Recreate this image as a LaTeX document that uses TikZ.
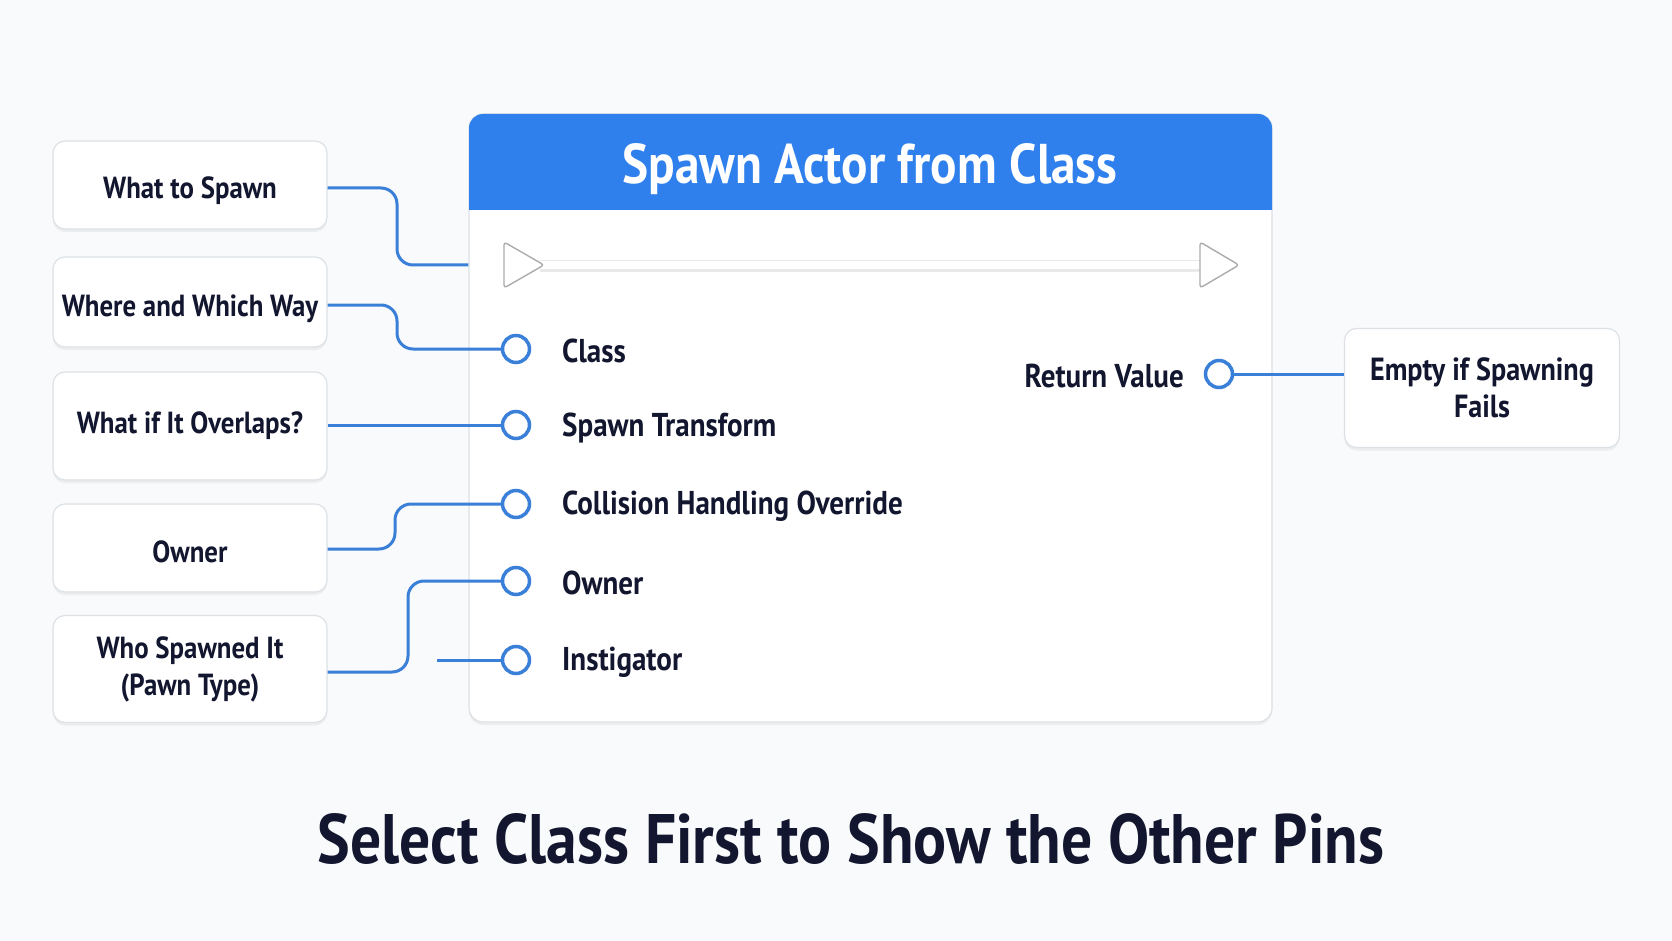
\documentclass[tikz,border=0pt]{standalone}
\usepackage{fontspec}
\setmainfont{PT Sans}[FakeStretch=0.88]
\usetikzlibrary{shadows}
\definecolor{bg}{HTML}{F9FAFB}
\definecolor{hdr}{HTML}{2F80EC}
\definecolor{wire}{HTML}{3A7FD8}
\definecolor{ink}{HTML}{12162E}
\definecolor{edge}{HTML}{DDE1E6}
\tikzset{
  lbox/.style={draw=edge, line width=1.2pt, fill=white, rounded corners=12pt,
    minimum width=274pt, align=center, text=ink,
    font=\bfseries\fontsize{30.5}{37}\selectfont,
    drop shadow={opacity=0.10, shadow xshift=0pt, shadow yshift=-3pt}},
  oneline/.style={text height=34pt, text depth=6pt},
  pin/.style={circle, draw=wire, line width=3.5pt, fill=white, minimum size=27pt, inner sep=0pt},
  pinlabel/.style={anchor=west, text=ink, font=\bfseries\fontsize{33}{37}\selectfont, inner sep=0pt},
  conn/.style={draw=wire, line width=3pt, rounded corners=16pt},
  execarrow/.style={draw=gray!65, fill=white, line width=1.4pt, rounded corners=3pt}
}
\begin{document}
\begin{tikzpicture}[x=1pt,y=-1pt]
\fill[bg] (0,0) rectangle (1672,941);
\useasboundingbox (0,0) rectangle (1672,941);

% main node body
\node[draw=edge, line width=1.2pt, fill=white, rounded corners=14pt, minimum width=803pt, minimum height=608pt,
  drop shadow={opacity=0.10, shadow xshift=0pt, shadow yshift=-3pt}] (main) at (870.5,418) {};
\begin{scope}
  \clip (469,114) rectangle (1272,210);
  \fill[hdr, rounded corners=14pt] (469,114) rectangle (1272,250);
\end{scope}
\node[text=white, font=\bfseries\fontsize{56}{60}\selectfont] (title) at (870,169) {Spawn Actor from Class};

% exec line
\draw[line width=11pt, gray!17] (540,266) -- (1205,266);
\draw[line width=7pt, white] (540,265) -- (1205,265);
\draw[execarrow] (504,242) -- (544,265) -- (504,288) -- cycle;
\draw[execarrow] (1200,242) -- (1239,265) -- (1200,288) -- cycle;
\coordinate (execL) at (504,265);

% left boxes
\node[lbox, oneline, minimum height=88pt] (b1) at (190,185) {What to Spawn};
\node[lbox, oneline, minimum height=90pt] (b2) at (190,302) {Where and Which Way};
\node[lbox, minimum height=108pt] (b3) at (190,426) {What if It Overlaps?};
\node[lbox, oneline, minimum height=88pt] (b4) at (190,548) {Owner};
\node[lbox, minimum height=107pt] (b5) at (190,669) {Who Spawned It\\(Pawn Type)};

% right box
\node[lbox, minimum width=275pt, minimum height=119pt, font=\bfseries\fontsize{32}{37}\selectfont] (rb) at (1482,388) {Empty if Spawning\\Fails};

% pins
\node[pin] (p1) at (516,349) {};
\node[pin] (p2) at (516,425) {};
\node[pin] (p3) at (516,504) {};
\node[pin] (p4) at (516,581) {};
\node[pin] (p5) at (516,660) {};
\node[pinlabel] (l1) at (562,351) {Class};
\node[pinlabel] (l2) at (562,428) {Spawn Transform};
\node[pinlabel] (l3) at (562,506) {Collision Handling Override};
\node[pinlabel] (l4) at (562,583) {Owner};
\node[pinlabel] (l5) at (562,662) {Instigator};

\node[pin] (rp) at (1219,374) {};
\node[pinlabel, anchor=east] (rl) at (1184,376) {Return Value};

% connectors
\draw[conn] (b1.east |- 0,188) -- (397,188) -- (397,265) -- (main.west |- execL);
\draw[conn] (b2.east |- 0,305) -- (397,305) -- (397,349) -- (p1.west);
\draw[conn] (b3.east |- p2) -- (p2.west);
\draw[conn] (b4.east |- 0,549) -- (395,549) -- (395,504) -- (p3.west);
\draw[conn] (b5.east |- 0,672) -- (408,672) -- (408,581) -- (p4.west);
\coordinate (instfree) at (437,660);
\draw[conn] (instfree) -- (p5.west);
\draw[conn] (rp.east) -- (rb.west |- rp);

% caption
\node[text=ink, font=\bfseries\fontsize{70}{76}\selectfont] (cap) at (851,839) {Select Class First to Show the Other Pins};
\end{tikzpicture}
\end{document}
